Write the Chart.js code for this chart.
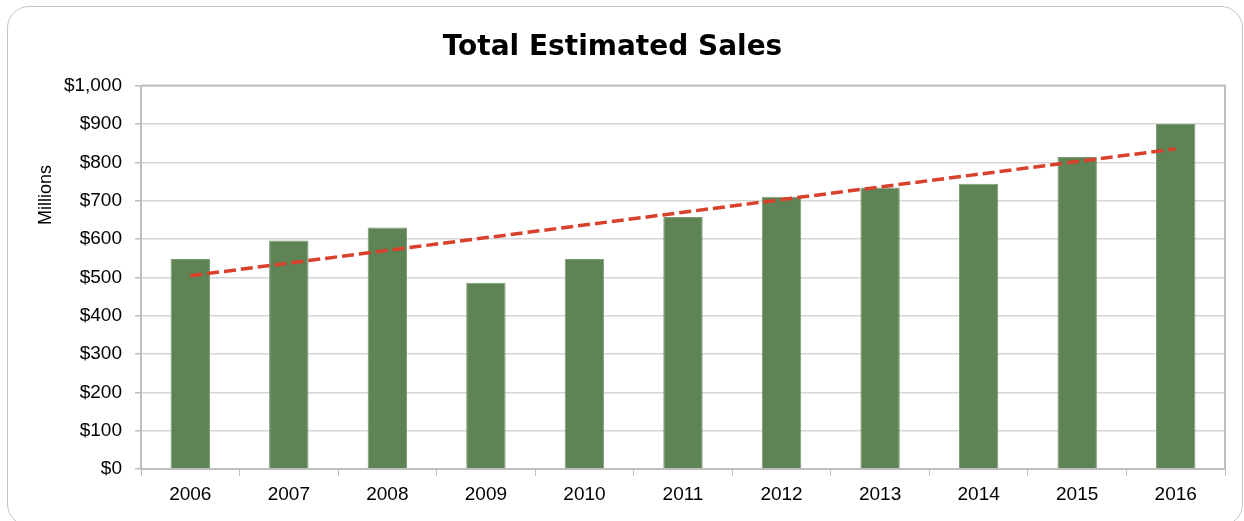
<!DOCTYPE html>
<html>
<head>
<meta charset="utf-8">
<title>Total Estimated Sales</title>
<script src="https://cdn.jsdelivr.net/npm/chart.js@4.4.1/dist/chart.umd.min.js"></script>
<style>
  body { margin: 0; background: #fff; }
  #wrap { position: relative; width: 1244px; height: 521px; }
  #frame {
    position: absolute; left: 7px; top: 6px; width: 1236px; height: 520px;
    border: 1px solid #c4c4c4; border-radius: 22px; box-sizing: border-box;
    pointer-events: none;
  }
</style>
</head>
<body>
<div id="wrap">
  <canvas id="salesChart"></canvas>
  <div id="frame"></div>
</div>
<script>
// values (millions of dollars)
const years = ["2006", "2007", "2008", "2009", "2010", "2011", "2012", "2013", "2014", "2015", "2016"];
const sales = [548, 596, 630, 486, 548, 657, 710, 734, 744, 814, 900];
// linear trendline, only its two ends
const trend = [504, null, null, null, null, null, null, null, null, null, 835];
const yMin = 0;
const yMax = 1000;
const yStep = 100;

const axisGray = "#bfbfbf";
const labelFont = { family: "'Liberation Sans', Arial, sans-serif", size: 19 };

// plot-area frame (top/right) and the "Millions" axis title
const plotExtras = {
  id: "plotExtras",
  beforeDatasetsDraw(chart) {
    const { ctx, chartArea } = chart;
    ctx.save();
    ctx.strokeStyle = axisGray;
    ctx.lineWidth = 2;
    ctx.beginPath();
    ctx.moveTo(chartArea.left, chartArea.top);
    ctx.lineTo(chartArea.right, chartArea.top);
    ctx.lineTo(chartArea.right, chartArea.bottom);
    ctx.stroke();
    ctx.restore();
  },
  afterDraw(chart) {
    const { ctx } = chart;
    ctx.save();
    ctx.translate(46, 195);
    ctx.rotate(-Math.PI / 2);
    ctx.font = "18px 'Liberation Sans', Arial, sans-serif";
    ctx.fillStyle = "#000";
    ctx.textAlign = "center";
    ctx.textBaseline = "middle";
    ctx.fillText("Millions", 0, 0);
    ctx.restore();
  },
};

const ctx = document.getElementById("salesChart").getContext("2d");
new Chart(ctx, {
  type: "bar",
  data: {
    labels: years,
    datasets: [
      {
        type: "line",
        label: "Trend",
        data: trend,
        spanGaps: true,
        borderColor: "#d9412c",
        borderWidth: 3.5,
        borderDash: [12, 5],
        pointRadius: 0,
        fill: false,
        order: 0,
      },
      {
        label: "Sales",
        data: sales,
        backgroundColor: "#5e8455",
        borderColor: "#7c9a74",
        borderWidth: 1,
        barPercentage: 0.4,
        categoryPercentage: 1,
        order: 1,
      },
    ],
  },
  options: {
    responsive: true,
    maintainAspectRatio: false,
    animation: false,
    layout: { padding: { left: 0, right: 19, top: 0, bottom: 0 } },
    plugins: {
      legend: { display: false },
      tooltip: { enabled: false },
      title: {
        display: true,
        text: "Total Estimated Sales",
        color: "#000",
        font: { family: "'DejaVu Sans', sans-serif", size: 28, weight: "bold", lineHeight: 1.2 },
        padding: { top: 31, bottom: 21 },
      },
    },
    scales: {
      x: {
        offset: true,
        border: { color: axisGray, width: 2 },
        grid: {
          offset: true,
          drawOnChartArea: false,
          drawTicks: true,
          tickLength: 7,
          tickColor: axisGray,
        },
        ticks: { color: "#000", font: labelFont, padding: 7 },
        afterFit(scale) { scale.height = 52; },
      },
      y: {
        min: yMin,
        max: yMax,
        border: { color: axisGray, width: 2 },
        grid: { color: "#d6d6d6", lineWidth: 1.5, tickLength: 6, tickColor: axisGray },
        ticks: {
          stepSize: yStep,
          color: "#000",
          font: labelFont,
          padding: 13,
          callback: (v) => "$" + v.toLocaleString("en-US"),
        },
        afterFit(scale) { scale.width = 141; },
      },
    },
  },
  plugins: [plotExtras],
});
</script>
</body>
</html>
